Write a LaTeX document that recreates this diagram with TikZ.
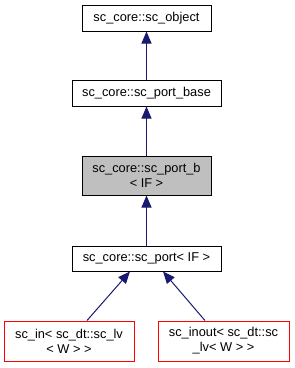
\documentclass[tikz,border=0pt]{standalone}
\usepackage{fontspec}
\setmainfont{Liberation Sans}
\usetikzlibrary{arrows.meta}
\definecolor{edgeblue}{HTML}{191970}
\definecolor{boxgray}{HTML}{BFBFBF}
\begin{document}
\begin{tikzpicture}[x=0.75pt,y=-0.75pt,
  cls/.style={draw,line width=0.75pt,align=center,inner sep=0pt,
    font=\fontsize{9.6}{11.25}\selectfont},
  leaf/.style={cls,draw=red},
  inh/.style={-{Triangle[length=9pt,width=7.5pt]},line width=0.75pt,edgeblue}]
  \useasboundingbox (0,0) rectangle (295,368);
  \node[cls,minimum width=96.75pt,minimum height=19.5pt] (obj) at (146.5,18) {sc\_core::sc\_object};
  \node[cls,minimum width=111.75pt,minimum height=19.5pt] (base) at (146.5,93) {sc\_core::sc\_port\_base};
  \node[cls,fill=boxgray,minimum width=96.75pt,minimum height=29.25pt] (portb) at (146.5,175.5) {sc\_core::sc\_port\_b\\< IF >};
  \node[cls,minimum width=111.75pt,minimum height=18.75pt] (port) at (146.5,258.5) {sc\_core::sc\_port< IF >};
  \node[leaf,minimum width=97.5pt,minimum height=30pt] (in) at (69,341) {sc\_in< sc\_dt::sc\_lv\\< W > >};
  \node[leaf,minimum width=98.25pt,minimum height=30pt] (inout) at (223.5,341) {sc\_inout< sc\_dt::sc\\\_lv< W > >};
  \draw[inh] (base) -- (obj);
  \draw[inh] (portb) -- (base);
  \draw[inh] (port) -- (portb);
  \draw[inh] ([xshift=13.5pt]in.north) -- ([xshift=-12.4pt]port.south);
  \draw[inh] ([xshift=-13.9pt]inout.north) -- ([xshift=12.4pt]port.south);
\end{tikzpicture}
\end{document}
